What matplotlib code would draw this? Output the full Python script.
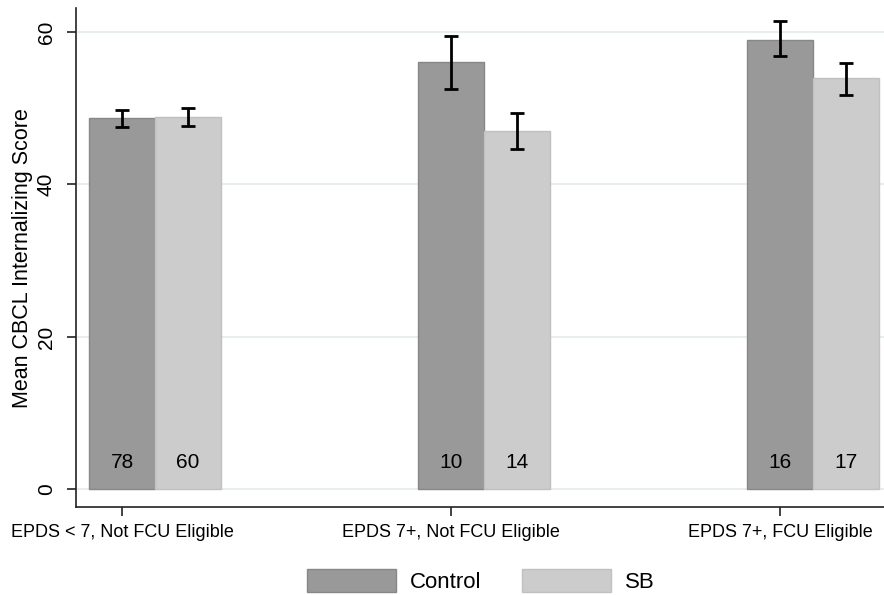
import matplotlib.pyplot as plt
import numpy as np
from matplotlib.patches import Patch

## data
groups = ['EPDS < 7, Not FCU Eligible', 'EPDS 7+, Not FCU Eligible', 'EPDS 7+, FCU Eligible']
control_mean = [48.7, 56.0, 59.0]
control_lo = [47.5, 52.5, 56.8]
control_hi = [49.8, 59.5, 61.4]
sb_mean = [48.9, 47.0, 53.9]
sb_lo = [47.7, 44.7, 51.7]
sb_hi = [50.0, 49.4, 55.9]
control_n = [78, 10, 16]
sb_n = [60, 14, 17]

plt.rcParams['font.family'] = ['Liberation Sans', 'DejaVu Sans']

fig = plt.figure(figsize=(8.84, 5.95), dpi=100)
ax = fig.add_axes([0.086, 0.148, 0.914, 0.838])

x = np.arange(len(groups))
w = 0.2
c_col, c_edge = '#999999', '#878787'
s_col, s_edge = '#cccccc', '#c0c0c0'

ax.bar(x, control_mean, width=w, color=c_col, edgecolor=c_edge, linewidth=1, zorder=2)
ax.bar(x + w, sb_mean, width=w, color=s_col, edgecolor=s_edge, linewidth=1, zorder=2)

c_err = [np.array(control_mean) - np.array(control_lo), np.array(control_hi) - np.array(control_mean)]
s_err = [np.array(sb_mean) - np.array(sb_lo), np.array(sb_hi) - np.array(sb_mean)]
ax.errorbar(x, control_mean, yerr=c_err, fmt='none', ecolor='black', elinewidth=2,
            capsize=4.7, capthick=2, zorder=3)
ax.errorbar(x + w, sb_mean, yerr=s_err, fmt='none', ecolor='black', elinewidth=2,
            capsize=4.7, capthick=2, zorder=3)

for i in range(len(groups)):
    ax.text(x[i], 3.5, str(control_n[i]), ha='center', va='center', fontsize=15, zorder=4)
    ax.text(x[i] + w, 3.5, str(sb_n[i]), ha='center', va='center', fontsize=15, zorder=4)

ax.set_xlim(-0.14, 2.316)
ax.set_ylim(-2.3, 63.1)
ax.set_yticks([0, 20, 40, 60])
ax.set_yticklabels(['0', '20', '40', '60'], rotation=90, va='center', fontsize=15)
ax.set_xticks(x)
ax.set_xticklabels(groups, fontsize=13)
ax.set_ylabel('Mean CBCL Internalizing Score', fontsize=15.5, labelpad=3)
ax.yaxis.grid(True, color='#e8eeee', linewidth=1.5, zorder=0)
ax.set_axisbelow(True)
for s in ['top', 'right']:
    ax.spines[s].set_visible(False)
for s in ['left', 'bottom']:
    ax.spines[s].set_linewidth(1.2)
    ax.spines[s].set_color('#222222')
ax.tick_params(axis='both', length=6.5, width=1.2, color='#222222')
ax.tick_params(axis='y', pad=8)
ax.tick_params(axis='x', pad=6)

handles = [Patch(facecolor=c_col, edgecolor=c_edge, label='Control'),
           Patch(facecolor=s_col, edgecolor=s_edge, label='SB')]
fig.legend(handles=handles, loc='center', bbox_to_anchor=(0.544, 0.023), ncol=2,
           frameon=False, fontsize=16, handlelength=4.0, handleheight=1.23,
           columnspacing=1.8, handletextpad=0.63, borderpad=0)

fig.savefig('out.png', dpi=100)
